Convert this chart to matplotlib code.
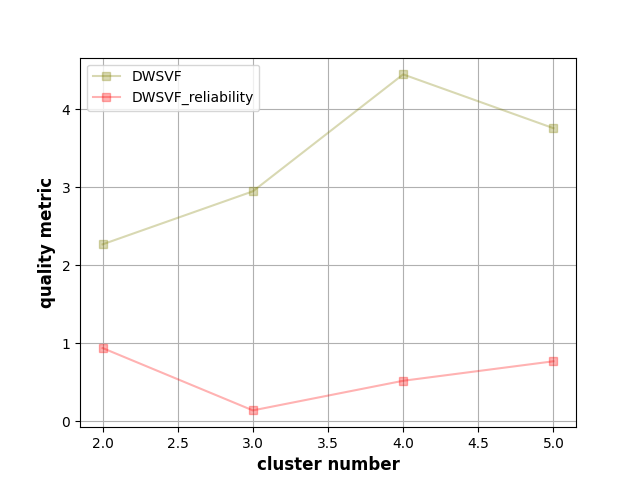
import matplotlib
matplotlib.use("Agg")
import matplotlib.pyplot as plt

clusters = [2, 3, 4, 5]
dwsvf = [2.27, 2.95, 4.45, 3.76]
dwsvf_reliability = [0.94, 0.14, 0.52, 0.77]

fig = plt.figure(figsize=(6.4, 4.8), dpi=100)
plt.plot(clusters, dwsvf, marker="s", linestyle="-", color="olive", alpha=0.3, label="DWSVF")
plt.plot(clusters, dwsvf_reliability, marker="s", linestyle="-", color="red", alpha=0.3,
         label="DWSVF_reliability")
plt.xlabel("cluster number", fontsize=12, fontweight="bold")
plt.ylabel("quality metric", fontsize=12, fontweight="bold")
plt.grid()
plt.legend(loc="upper left")
plt.savefig("out.png", dpi=100)
